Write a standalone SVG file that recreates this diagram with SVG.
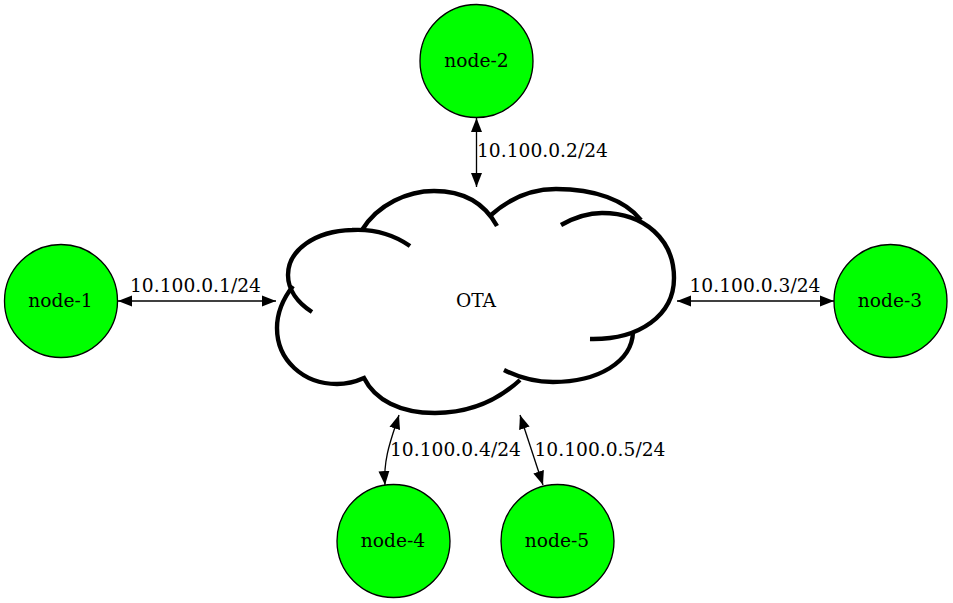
<svg xmlns="http://www.w3.org/2000/svg" width="953" height="603" viewBox="0 0 953 603">
<style>
text{font-family:"DejaVu Serif","Liberation Serif",serif;font-size:18.67px;fill:#000}
.c{text-anchor:middle}
.n{fill:#0f0;stroke:#000;stroke-width:1.33}
.e{fill:none;stroke:#000;stroke-width:1.33;marker-start:url(#a);marker-end:url(#a)}
.o{fill:none;stroke:#000;stroke-width:4.4}
</style>
<defs><marker id="a" markerUnits="userSpaceOnUse" markerWidth="16" markerHeight="14" refX="14" refY="6" orient="auto-start-reverse"><path d="M0 0.5L14 6L0 11.5Z" fill="#000"/></marker></defs>
<rect width="953" height="603" fill="#fff"/>
<g id="connectors">
<path class="e" d="M118 301H276"/>
<path class="e" d="M476.5 118V187"/>
<path class="e" d="M677 301H834"/>
<path class="e" d="M399 415C392 437 383 458 385 485"/>
<path class="e" d="M520 415L543 485"/>
<text x="130" y="292">10.100.0.1/24</text>
<text x="477" y="157">10.100.0.2/24</text>
<text x="689.500" y="292">10.100.0.3/24</text>
<text x="390" y="456">10.100.0.4/24</text>
<text x="534.500" y="456">10.100.0.5/24</text>
</g>
<g id="ota">
<path class="o" d="M410 246C390 232 370 229 352 230C315 231 288 250 288 275C288 290 298 303 312 312"/>
<path class="o" d="M362 230C378 204 408 191 434 191C465 191 485 204 497 226"/>
<path class="o" d="M491 215C510 198 530 189 556 189C595 189 625 200 641 220"/>
<path class="o" d="M561 225C577 216 590 213 602 213C645 213 674 240 674 278C674 315 640 340 590 339"/>
<path class="o" d="M633 332C632 362 598 382 553 382C535 382 520 378 504 370"/>
<path class="o" d="M520 380C495 403 465 413 435 413C400 413 375 400 364 378C355 382 347 384 337 384C303 384 277 360 277 328C277 313 282 300 293 286"/>
<text class="c" x="476" y="307">OTA</text>
</g>
<g id="node-1"><circle class="n" cx="61" cy="301" r="56.500"/><text class="c" x="60.500" y="307">node-1</text></g>
<g id="node-2"><circle class="n" cx="476.500" cy="61" r="56.500"/><text class="c" x="476.500" y="67">node-2</text></g>
<g id="node-3"><circle class="n" cx="890.500" cy="301" r="56.500"/><text class="c" x="890" y="307">node-3</text></g>
<g id="node-4"><circle class="n" cx="393.500" cy="541" r="56.500"/><text class="c" x="393" y="547">node-4</text></g>
<g id="node-5"><circle class="n" cx="557.500" cy="541" r="56.500"/><text class="c" x="557" y="547">node-5</text></g>
</svg>
